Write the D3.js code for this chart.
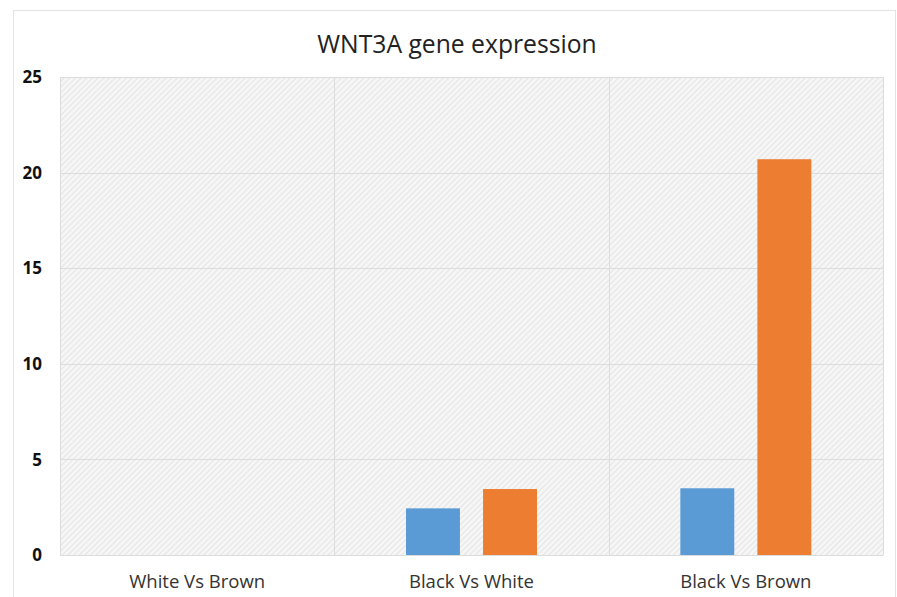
<!DOCTYPE html>
<html>
<head>
<meta charset="utf-8">
<script src="https://cdn.jsdelivr.net/npm/d3@7"></script>
<style>
  body { margin: 0; background: #fff; }
  text { font-family: "Open Sans", sans-serif; }
</style>
</head>
<body>
<div id="chart"></div>
<script>
// chart data
const categories = ["White Vs Brown", "Black Vs White", "Black Vs Brown"];
const seriesNames = ["Series1", "Series2"];
const series1 = [0, 2.44, 3.49];
const series2 = [0, 3.45, 20.7];
const yTicks = [0, 5, 10, 15, 20, 25];
const colors = ["#5B9BD5", "#ED7D31"];

const W = 897, H = 597;
const plot = { left: 60, top: 77, right: 883, bottom: 555 };

const svg = d3.select("#chart").append("svg")
    .attr("width", W)
    .attr("height", H);

// outer chart frame
svg.append("rect")
    .attr("x", 13.5).attr("y", 10.5)
    .attr("width", 882).attr("height", 600)
    .attr("fill", "#fff")
    .attr("stroke", "#e3e3e3");

// hatched plot background
const defs = svg.append("defs");
const pat = defs.append("pattern")
    .attr("id", "hatch")
    .attr("patternUnits", "userSpaceOnUse")
    .attr("width", 4).attr("height", 4)
    .attr("patternTransform", "rotate(45)");
pat.append("rect").attr("width", 4).attr("height", 4).attr("fill", "#f6f6f6");
pat.append("line")
    .attr("x1", 0).attr("y1", 0).attr("x2", 0).attr("y2", 4)
    .attr("stroke", "#e4e4e4").attr("stroke-width", 2);

let x0 = d3.scaleBand()
    .domain(categories)
    .range([plot.left, plot.right])
    .padding(0);

let x1 = d3.scaleBand()
    .domain(seriesNames)
    .range([0, x0.bandwidth()])
    .paddingInner(0.3)
    .paddingOuter(0.93);

let y = d3.scaleLinear()
    .domain([0, 25])
    .range([plot.bottom, plot.top]);

svg.append("rect")
    .attr("x", plot.left).attr("y", plot.top)
    .attr("width", plot.right - plot.left)
    .attr("height", plot.bottom - plot.top)
    .attr("fill", "url(#hatch)");

// horizontal gridlines
svg.append("g")
    .selectAll("line")
    .data(yTicks)
    .enter().append("line")
    .attr("x1", plot.left).attr("x2", plot.right)
    .attr("y1", d => Math.round(y(d)) + 0.5)
    .attr("y2", d => Math.round(y(d)) + 0.5)
    .attr("stroke", "#dcdcdc");

// vertical gridlines at category edges
svg.append("g")
    .selectAll("line")
    .data(categories.concat(["end"]))
    .enter().append("line")
    .attr("x1", (d, i) => Math.round(plot.left + i * x0.bandwidth()) + 0.5)
    .attr("x2", (d, i) => Math.round(plot.left + i * x0.bandwidth()) + 0.5)
    .attr("y1", plot.top).attr("y2", plot.bottom)
    .attr("stroke", "#dcdcdc");

// y labels
svg.append("g")
    .selectAll("text")
    .data(yTicks)
    .enter().append("text")
    .attr("x", 42)
    .attr("y", d => y(d))
    .attr("dy", "0.36em")
    .attr("text-anchor", "end")
    .attr("font-size", 17)
    .attr("font-weight", "bold")
    .attr("fill", "#111")
    .text(d => d);

// x labels
svg.append("g")
    .selectAll("text")
    .data(categories)
    .enter().append("text")
    .attr("x", d => x0(d) + x0.bandwidth() / 2)
    .attr("y", 588)
    .attr("text-anchor", "middle")
    .attr("font-size", 18.5)
    .attr("fill", "#333")
    .text(d => d);

// bars
const rows = categories.map((c, i) => ({ cat: c, vals: [series1[i], series2[i]] }));
const grp = svg.append("g")
    .selectAll("g")
    .data(rows)
    .enter().append("g")
    .attr("transform", d => "translate(" + x0(d.cat) + ",0)");

grp.selectAll("rect")
    .data(d => d.vals.map((v, j) => ({ name: seriesNames[j], value: v, j: j })))
    .enter().append("rect")
    .attr("x", d => x1(d.name))
    .attr("y", d => y(d.value))
    .attr("width", x1.bandwidth())
    .attr("height", d => y(0) - y(d.value))
    .attr("fill", d => colors[d.j]);

// title
svg.append("text")
    .attr("x", 457)
    .attr("y", 53)
    .attr("text-anchor", "middle")
    .attr("font-size", 24.7)
    .attr("fill", "#222")
    .text("WNT3A gene expression");
</script>
</body>
</html>
